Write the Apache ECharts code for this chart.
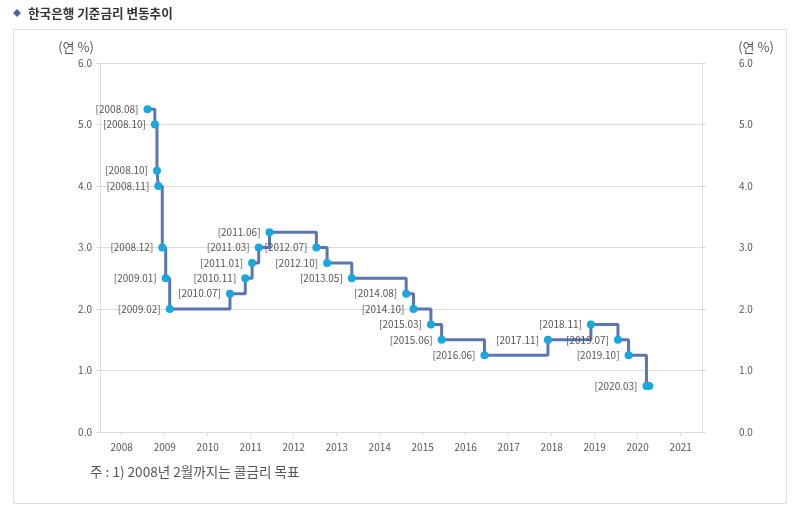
<!DOCTYPE html>
<html>
<head>
<meta charset="utf-8">
<script src="https://cdn.jsdelivr.net/npm/echarts@6/dist/echarts.min.js"></script>
<style>
html,body{margin:0;padding:0;background:#fff;}
#chart{width:800px;height:510px;}
</style>
</head>
<body>
<div id="chart"></div>
<script>
// Dates of each base-rate change
var dates = ['2008-08-07','2008-10-09','2008-10-27','2008-11-07','2008-12-11','2009-01-09','2009-02-12',
  '2010-07-09','2010-11-16','2011-01-13','2011-03-10','2011-06-10','2012-07-12','2012-10-11','2013-05-09',
  '2014-08-14','2014-10-15','2015-03-12','2015-06-11','2016-06-09','2017-11-30','2018-11-30','2019-07-18',
  '2019-10-16','2020-03-16','2020-04-09'];
// Base rate (% per annum)
var rates = [5.25,5.00,4.25,4.00,3.00,2.50,2.00,2.25,2.50,2.75,3.00,3.25,3.00,2.75,2.50,2.25,2.00,1.75,1.50,1.25,1.50,1.75,1.50,1.25,0.75,0.75];
// Point labels
var pointLabels = ['[2008.08]','[2008.10]','[2008.10]','[2008.11]','[2008.12]','[2009.01]','[2009.02]',
  '[2010.07]','[2010.11]','[2011.01]','[2011.03]','[2011.06]','[2012.07]','[2012.10]','[2013.05]',
  '[2014.08]','[2014.10]','[2015.03]','[2015.06]','[2016.06]','[2017.11]','[2018.11]','[2019.07]',
  '[2019.10]','[2020.03]',''];
var yTicks = [0, 1, 2, 3, 4, 5, 6];

var FONT = '"Noto Sans CJK KR", "Noto Sans", sans-serif';
var data = dates.map(function (d, i) { return { value: [d, rates[i]], label: { formatter: pointLabels[i] } }; });

var chart = echarts.init(document.getElementById('chart'), null, { renderer: 'canvas' });
var gridColor = '#dcdcdc';
var yAxisCommon = {
  type: 'value', min: yTicks[0], max: yTicks[yTicks.length - 1], interval: 1,
  axisLine: { show: true, lineStyle: { color: gridColor } },
  axisTick: { show: true, length: 4, lineStyle: { color: gridColor } },
  splitLine: { show: true, lineStyle: { color: gridColor } },
  axisLabel: { formatter: function (v) { return v.toFixed(1); }, color: '#555', fontSize: 10, fontFamily: FONT }
};
chart.setOption({
  animation: false,
  textStyle: { fontFamily: FONT },
  grid: { left: 100, right: 98, top: 63, bottom: 78, containLabel: false },
  xAxis: {
    type: 'time', min: '2007-07-01', max: '2021-07-01',
    minInterval: 365 * 24 * 3600 * 1000, maxInterval: 366 * 24 * 3600 * 1000,
    axisLine: { show: true, lineStyle: { color: gridColor } },
    axisTick: { show: true, length: 4, lineStyle: { color: gridColor } },
    splitLine: { show: false },
    axisLabel: { formatter: '{yyyy}', color: '#555', fontSize: 10, fontFamily: FONT, margin: 10, showMinLabel: false, showMaxLabel: false }
  },
  yAxis: [
    Object.assign({}, yAxisCommon, { position: 'left', axisLabel: Object.assign({}, yAxisCommon.axisLabel, { margin: 8 }) }),
    Object.assign({}, yAxisCommon, { position: 'right', splitLine: { show: false }, axisLabel: Object.assign({}, yAxisCommon.axisLabel, { margin: 37 }) })
  ],
  series: [{
    type: 'line', step: 'end', yAxisIndex: 0,
    data: data,
    lineStyle: { color: '#5b75b1', width: 3 },
    symbol: 'circle', symbolSize: 8,
    itemStyle: { color: '#17a8e0' },
    label: { show: true, position: 'left', distance: 5, color: '#555', fontSize: 10, fontFamily: FONT },
    z: 3
  }],
  graphic: [
    { type: 'rect', shape: { x: 13.5, y: 29.5, width: 773, height: 474 }, style: { fill: 'none', stroke: '#dedede', lineWidth: 1 } },
    { type: 'rect', x: 17, y: 13, rotation: Math.PI / 4, shape: { x: -2.8, y: -2.8, width: 5.6, height: 5.6 }, style: { fill: '#4e63a6' } },
    { type: 'text', x: 28, y: 13, style: { text: '한국은행 기준금리 변동추이', fill: '#333', font: 'bold 12.6px ' + FONT, textVerticalAlign: 'middle' } },
    { type: 'text', x: 76, y: 47, style: { text: '(연 %)', fill: '#555', font: '13px ' + FONT, textAlign: 'center', textVerticalAlign: 'middle' } },
    { type: 'text', x: 756, y: 47, style: { text: '(연 %)', fill: '#555', font: '13px ' + FONT, textAlign: 'center', textVerticalAlign: 'middle' } },
    { type: 'text', x: 90, y: 472, style: { text: '주 : 1) 2008년 2월까지는 콜금리 목표', fill: '#555', font: '13.6px ' + FONT, textVerticalAlign: 'middle' } }
  ]
});
</script>
</body>
</html>
